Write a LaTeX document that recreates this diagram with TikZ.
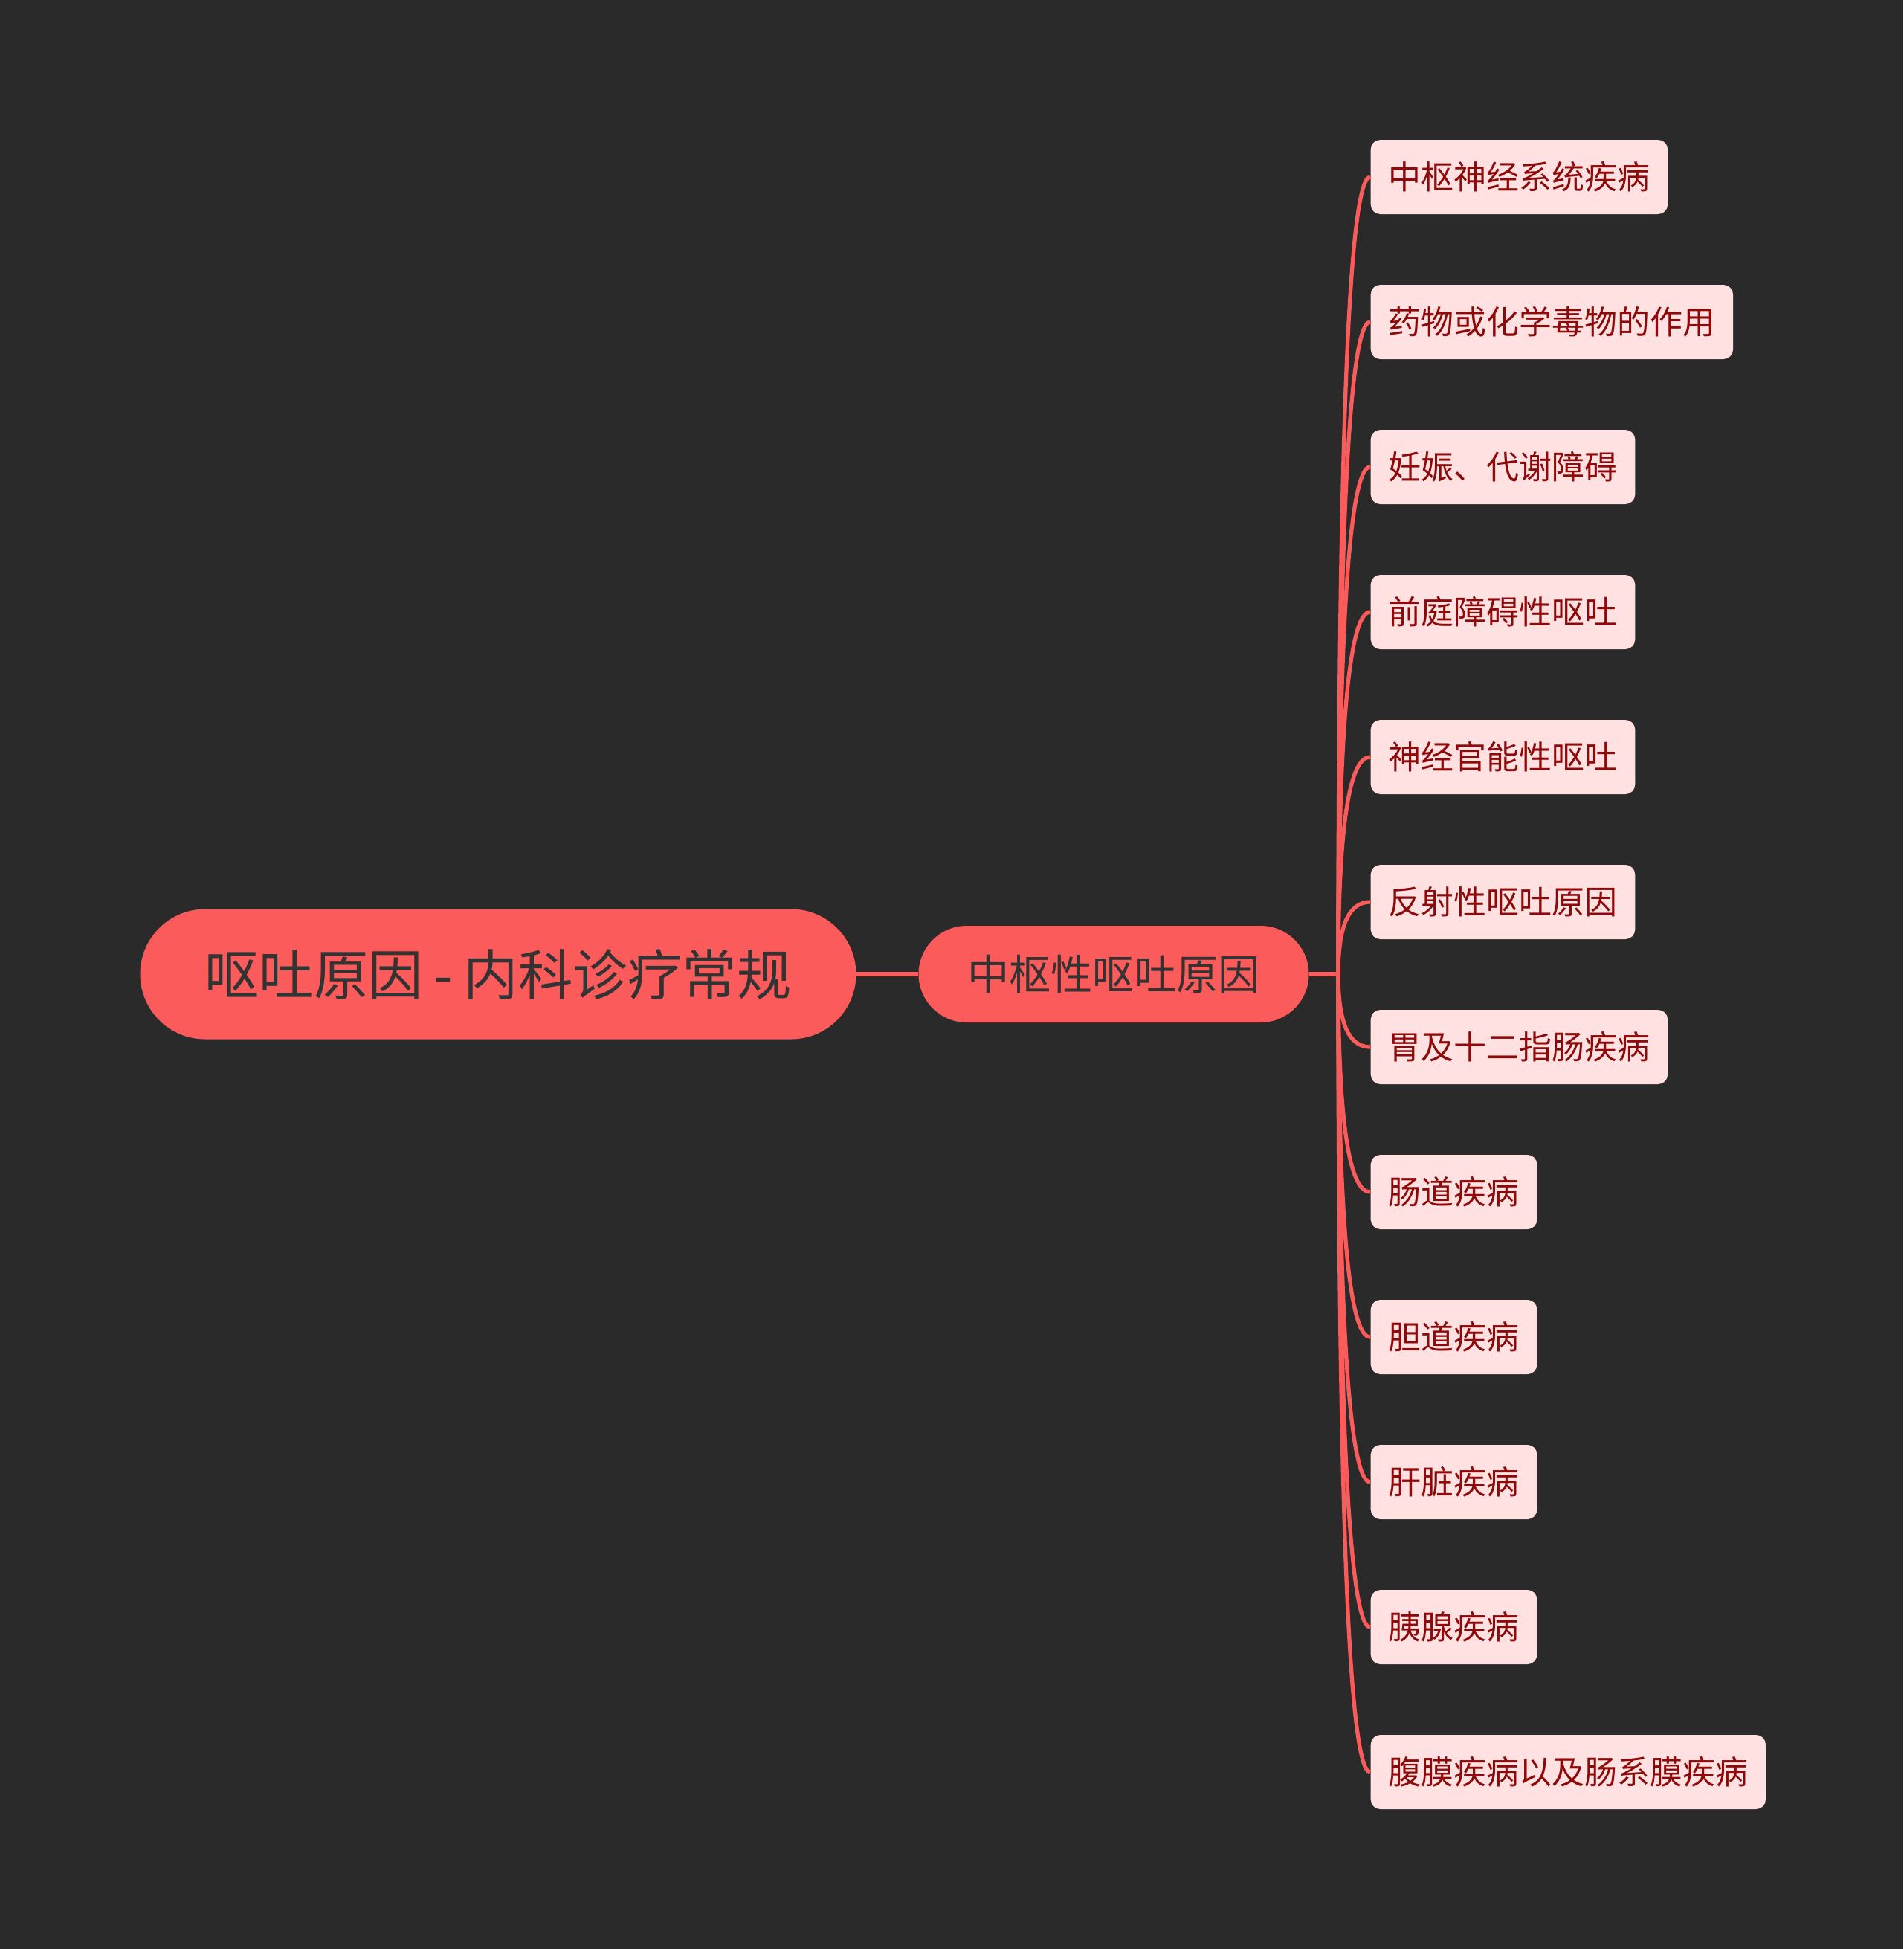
\documentclass[tikz,border=0pt]{standalone}
\usepackage{fontspec}
\setmainfont{Noto Sans CJK SC}
\usetikzlibrary{calc}
\definecolor{bgdark}{HTML}{2A2A2A}
\definecolor{mapred}{HTML}{FC5B5B}
\definecolor{leafpink}{HTML}{FFE1E1}
\definecolor{leaftext}{HTML}{8E0A0A}
\definecolor{roottext}{HTML}{333333}
\begin{document}
\begin{tikzpicture}[
    root/.style={fill=mapred,rounded corners=0.875cm,text=roottext,
        minimum width=9.63cm,minimum height=1.75cm,
        font=\fontsize{20.9pt}{24pt}\selectfont},
    branch/.style={fill=mapred,rounded corners=0.65cm,text=roottext,
        minimum width=5.25cm,minimum height=1.30cm,
        font=\fontsize{16pt}{18pt}\selectfont},
    leaf/.style={fill=leafpink,rounded corners=0.13cm,text=leaftext,anchor=west,
        inner xsep=0.24cm,minimum height=1.0cm,
        font=\fontsize{12.5pt}{14pt}\selectfont},
    link/.style={draw=mapred,line width=1.5pt},
    curvy/.style={to path={.. controls ($(\tikztostart)!0.67!(\tikztostart|-\tikztotarget)$)
        and ($(\tikztotarget)!0.67!(\tikztostart|-\tikztotarget)$) .. (\tikztotarget)}}
]
    \fill[bgdark] (0,0) rectangle (25.6,-26.21);
    \useasboundingbox (0,0) rectangle (25.6,-26.21);

    \node[root] (root) at (6.70,-13.10) {呕吐原因\kern0.2em-\kern0.2em内科诊疗常规};
    \node[branch] (cause) at (14.98,-13.10) {中枢性呕吐原因};
    \coordinate (hub) at (18.00,-13.10);

    \node[leaf] (cns) at (18.43,-2.38) {中枢神经系统疾病};
    \node[leaf] (drug) at (18.43,-4.33) {药物或化学毒物的作用};
    \node[leaf] (preg) at (18.43,-6.28) {妊娠、代谢障碍};
    \node[leaf] (vest) at (18.43,-8.23) {前庭障碍性呕吐};
    \node[leaf] (neuro) at (18.43,-10.18) {神经官能性呕吐};
    \node[leaf] (reflex) at (18.43,-12.13) {反射性呕吐原因};
    \node[leaf] (gastro) at (18.43,-14.08) {胃及十二指肠疾病};
    \node[leaf] (bowel) at (18.43,-16.03) {肠道疾病};
    \node[leaf] (bile) at (18.43,-17.98) {胆道疾病};
    \node[leaf] (liver) at (18.43,-19.93) {肝脏疾病};
    \node[leaf] (pancr) at (18.43,-21.88) {胰腺疾病};
    \node[leaf] (perit) at (18.43,-23.83) {腹膜疾病以及肠系膜疾病};

    \draw[link] (root.east)--(cause.west);
    \draw[link] (cause.east)--(hub);
    \draw[link] (hub) to[curvy] (cns.west);
    \draw[link] (hub) to[curvy] (drug.west);
    \draw[link] (hub) to[curvy] (preg.west);
    \draw[link] (hub) to[curvy] (vest.west);
    \draw[link] (hub) to[curvy] (neuro.west);
    \draw[link] (hub) to[curvy] (reflex.west);
    \draw[link] (hub) to[curvy] (gastro.west);
    \draw[link] (hub) to[curvy] (bowel.west);
    \draw[link] (hub) to[curvy] (bile.west);
    \draw[link] (hub) to[curvy] (liver.west);
    \draw[link] (hub) to[curvy] (pancr.west);
    \draw[link] (hub) to[curvy] (perit.west);
\end{tikzpicture}
\end{document}
